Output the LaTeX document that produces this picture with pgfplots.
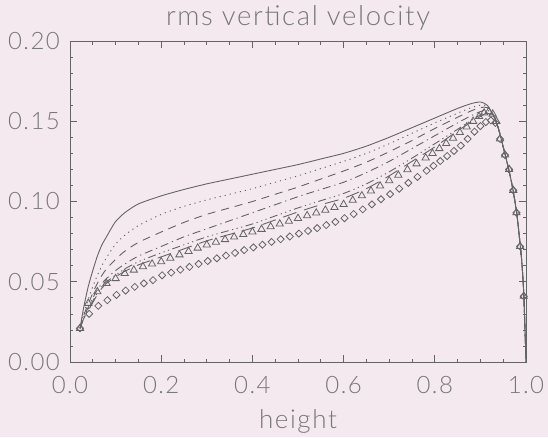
\documentclass[border=0pt]{standalone}
\usepackage{pgfplots}
\pgfplotsset{compat=1.18}
\usepackage{fontspec}
\setmainfont{Lato}[UprightFont={* Light}, LetterSpace=6]
\definecolor{paper}{RGB}{245,233,240}
\definecolor{ink}{RGB}{100,100,100}
\definecolor{txt}{RGB}{120,120,120}

% shared steep fall towards the upper boundary
\newcommand{\tail}{(0.94,0.1450) (0.95,0.1340) (0.96,0.1225) (0.97,0.1095) (0.98,0.0920) (0.99,0.0650) (0.995,0.0430) (1.00,0.0000)}

\begin{document}
\begin{tikzpicture}
\fill[paper] (0,0) rectangle (548pt,437pt);
\useasboundingbox (0,0) rectangle (548pt,437pt);
\begin{axis}[
  at={(70pt,75pt)}, anchor=south west,
  scale only axis, width=456pt, height=321pt,
  xmin=0, xmax=1, ymin=0, ymax=0.2,
  xtick={0,0.2,0.4,0.6,0.8,1},
  xticklabels={0.0,0.2,0.4,0.6,0.8,1.0},
  ytick={0,0.05,0.1,0.15,0.2},
  yticklabels={0.00,0.05,0.10,0.15,0.20},
  minor x tick num=3, minor y tick num=4,
  tick align=inside, xtick pos=both, ytick pos=both,
  major tick length=7pt, minor tick length=3.5pt,
  axis line style={ink, line width=0.9pt},
  tick style={ink, line width=0.7pt},
  every tick label/.append style={font=\fontsize{24}{28}\selectfont, text=txt},
  xticklabel style={anchor=base, inner sep=0pt, yshift=-31pt},
  yticklabel style={anchor=east, inner sep=0pt, xshift=-10pt},
  every axis title shift=0pt,
  title={rms vertical velocity},
  title style={font=\fontsize{27.5}{32}\selectfont, text=txt, at={(0.5,1)}, anchor=base, inner sep=0pt, yshift=16pt},
  xlabel={height},
  xlabel style={font=\fontsize{26}{30}\selectfont, text=txt, at={(0.5,0)}, anchor=base, inner sep=0pt, yshift=-66pt},
  every axis plot/.append style={ink, line width=0.9pt},
]
% solid
\addplot[smooth, tension=0.4] coordinates {
(0.022,0.021) (0.03,0.034) (0.04,0.047) (0.05,0.057) (0.06,0.066) (0.07,0.073)
(0.08,0.078) (0.09,0.083) (0.10,0.0875) (0.12,0.093) (0.15,0.0985) (0.20,0.1035)
(0.25,0.1075) (0.30,0.111) (0.35,0.114) (0.40,0.117) (0.45,0.120) (0.50,0.123)
(0.55,0.1265) (0.60,0.130) (0.65,0.1345) (0.70,0.140) (0.75,0.146) (0.80,0.152)
(0.85,0.158) (0.88,0.1610) (0.90,0.1620) (0.915,0.1600) (0.93,0.1530) \tail};
% dotted
\addplot[smooth, tension=0.4, dash pattern=on 1.2pt off 4pt] coordinates {
(0.022,0.021) (0.03,0.030) (0.04,0.039) (0.05,0.047) (0.06,0.054) (0.07,0.060)
(0.08,0.065) (0.10,0.0735) (0.12,0.079) (0.15,0.085) (0.20,0.092) (0.25,0.097)
(0.30,0.101) (0.35,0.1045) (0.40,0.108) (0.45,0.112) (0.50,0.116) (0.55,0.1205)
(0.60,0.125) (0.65,0.130) (0.70,0.136) (0.75,0.1425) (0.80,0.149) (0.85,0.155)
(0.88,0.1585) (0.90,0.1600) (0.915,0.1595) (0.93,0.1535) \tail};
% dashed
\addplot[smooth, tension=0.4, dash pattern=on 8pt off 6pt] coordinates {
(0.022,0.021) (0.03,0.029) (0.04,0.036) (0.05,0.043) (0.06,0.049) (0.07,0.054)
(0.08,0.058) (0.10,0.064) (0.12,0.069) (0.15,0.0745) (0.20,0.081) (0.25,0.087)
(0.30,0.092) (0.35,0.096) (0.40,0.100) (0.45,0.1045) (0.50,0.109) (0.55,0.114)
(0.60,0.119) (0.65,0.1245) (0.70,0.131) (0.75,0.138) (0.80,0.1455) (0.85,0.1525)
(0.88,0.1565) (0.90,0.1585) (0.915,0.1585) (0.93,0.1535) \tail};
% dash-dot
\addplot[smooth, tension=0.4, dash pattern=on 8pt off 4pt on 1.2pt off 4pt] coordinates {
(0.022,0.021) (0.03,0.028) (0.04,0.034) (0.05,0.040) (0.06,0.045) (0.07,0.049)
(0.08,0.052) (0.10,0.057) (0.12,0.061) (0.15,0.066) (0.20,0.072) (0.25,0.078)
(0.30,0.083) (0.35,0.088) (0.40,0.093) (0.45,0.098) (0.50,0.103) (0.55,0.1075)
(0.60,0.112) (0.65,0.118) (0.70,0.125) (0.75,0.133) (0.80,0.141) (0.85,0.149)
(0.88,0.1535) (0.90,0.1560) (0.915,0.1570) (0.93,0.1530) \tail};
% dash-dot-dot-dot
\addplot[smooth, tension=0.4, dash pattern=on 8pt off 3.5pt on 1.2pt off 3.5pt on 1.2pt off 3.5pt on 1.2pt off 3.5pt] coordinates {
(0.022,0.021) (0.03,0.027) (0.04,0.033) (0.05,0.038) (0.06,0.043) (0.07,0.047)
(0.08,0.050) (0.10,0.054) (0.12,0.058) (0.15,0.0625) (0.20,0.068) (0.25,0.073)
(0.30,0.078) (0.35,0.082) (0.40,0.086) (0.45,0.091) (0.50,0.096) (0.55,0.1005)
(0.60,0.105) (0.65,0.111) (0.70,0.1185) (0.75,0.127) (0.80,0.136) (0.85,0.145)
(0.88,0.1505) (0.90,0.1540) (0.915,0.1555) (0.93,0.1525) \tail};
% long dashes
\addplot[smooth, tension=0.4, dash pattern=on 14pt off 8pt] coordinates {
(0.022,0.021) (0.03,0.027) (0.04,0.032) (0.05,0.037) (0.06,0.042) (0.07,0.046)
(0.08,0.049) (0.10,0.053) (0.12,0.0565) (0.15,0.0605) (0.20,0.0655) (0.25,0.0705)
(0.30,0.0755) (0.35,0.0795) (0.40,0.0835) (0.45,0.0885) (0.50,0.0935) (0.55,0.098)
(0.60,0.102) (0.65,0.108) (0.70,0.1160) (0.75,0.1250) (0.80,0.1340) (0.85,0.1440)
(0.88,0.1495) (0.90,0.1530) (0.915,0.1550) (0.93,0.1520) \tail};
% triangles
\addplot[only marks, mark=triangle, mark size=4.2pt, mark options={ink, line width=0.8pt}] coordinates {
(0.022,0.021) (0.040,0.0366) (0.060,0.0438) (0.080,0.0490) (0.100,0.0520)
(0.120,0.0552) (0.140,0.0573) (0.160,0.0594) (0.180,0.0611) (0.200,0.0625)
(0.220,0.0647) (0.240,0.0668) (0.260,0.0689) (0.280,0.0710) (0.300,0.0730)
(0.320,0.0747) (0.340,0.0763) (0.360,0.0779) (0.380,0.0795) (0.400,0.0811)
(0.420,0.0827) (0.440,0.0843) (0.460,0.0860) (0.480,0.0877) (0.500,0.0895)
(0.520,0.0912) (0.540,0.0929) (0.560,0.0946) (0.580,0.0963) (0.600,0.0982)
(0.620,0.1008) (0.640,0.1036) (0.660,0.1066) (0.680,0.1097) (0.700,0.1130)
(0.720,0.1164) (0.740,0.1199) (0.760,0.1235) (0.780,0.1272) (0.795,0.1300)
(0.810,0.1330) (0.825,0.1362) (0.840,0.1395) (0.855,0.1430) (0.870,0.1465)
(0.884,0.1500) (0.897,0.1530) (0.908,0.1552) (0.918,0.1560) (0.927,0.1545)
(0.935,0.1500) (0.943,0.1390) (0.954,0.1290) (0.963,0.1200) (0.972,0.1070)
(0.979,0.0930) (0.987,0.0720) (0.995,0.0410)};
% diamonds
\addplot[only marks, mark=square, mark size=2.5pt, mark options={ink, line width=0.8pt, rotate=45}] coordinates {
(0.022,0.021) (0.042,0.0300) (0.062,0.0350) (0.082,0.0385) (0.102,0.0418)
(0.122,0.0445) (0.142,0.0468) (0.162,0.0490) (0.182,0.0510) (0.202,0.0540)
(0.222,0.0557) (0.242,0.0575) (0.262,0.0593) (0.282,0.0611) (0.302,0.0629)
(0.322,0.0646) (0.342,0.0663) (0.362,0.0680) (0.382,0.0697) (0.402,0.0714)
(0.422,0.0731) (0.442,0.0748) (0.462,0.0765) (0.482,0.0782) (0.502,0.0800)
(0.522,0.0817) (0.542,0.0834) (0.562,0.0853) (0.582,0.0873) (0.602,0.0896)
(0.622,0.0922) (0.642,0.0951) (0.662,0.0982) (0.682,0.1014) (0.702,0.1046)
(0.722,0.1080) (0.742,0.1116) (0.762,0.1153) (0.782,0.1192) (0.797,0.1222)
(0.812,0.1252) (0.827,0.1283) (0.842,0.1315) (0.857,0.1348) (0.872,0.1390)
(0.887,0.1435) (0.900,0.1470) (0.912,0.1495) (0.923,0.1505) (0.933,0.1490)
(0.943,0.1390) (0.954,0.1290) (0.963,0.1200) (0.972,0.1070) (0.979,0.0930)
(0.987,0.0720) (0.995,0.0410)};
\end{axis}
\end{tikzpicture}
\end{document}
